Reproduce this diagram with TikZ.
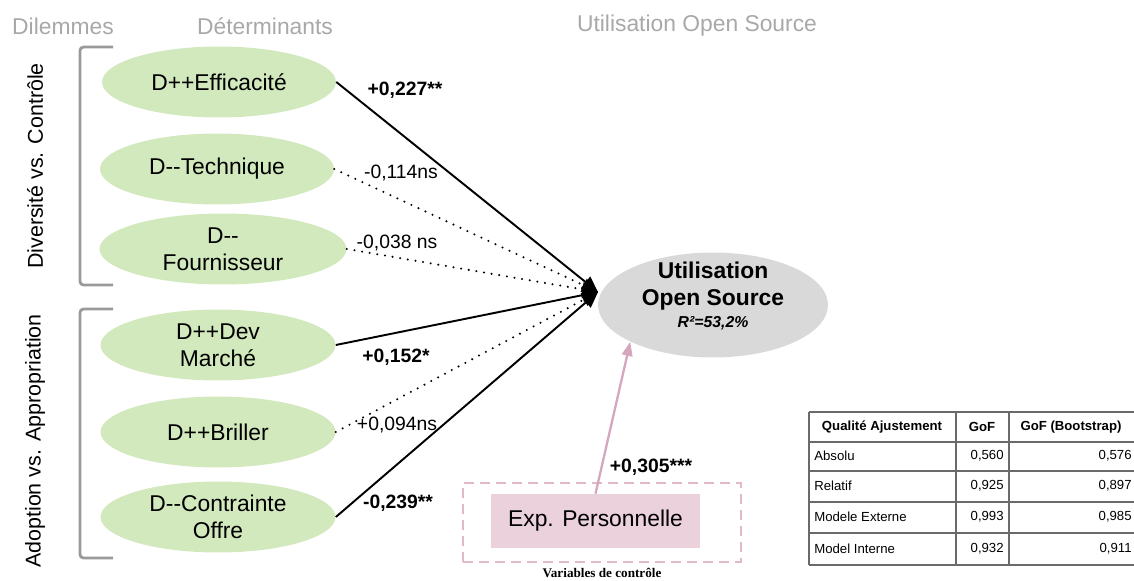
\documentclass[tikz,border=0pt]{standalone}
\usepackage{fontspec}
\setmainfont{Liberation Sans}
\newfontfamily\timesfont{Liberation Serif}
\usetikzlibrary{positioning,shapes.geometric,arrows.meta}
\definecolor{vertdet}{HTML}{D2E8BD}
\definecolor{griscible}{HTML}{D9D9D9}
\definecolor{rosefond}{HTML}{EAD1DC}
\definecolor{rosetrait}{HTML}{D5A6BD}
\definecolor{rosecadre}{HTML}{E2B8CB}
\definecolor{gristitre}{HTML}{A8A8A8}
\definecolor{grisaccolade}{HTML}{9A9A9A}
\definecolor{gristable}{HTML}{6A6A6A}
\newcommand{\dmoins}{-\kern0pt-}
\tikzset{%
  every determinant/.style={
    ellipse,
    fill=vertdet,
    minimum width=4.68cm,
    minimum height=1.42cm,
    inner sep=0pt,
    align=center,
    font=\fontsize{13}{15.5}\selectfont
  },
  cible/.style={
    ellipse,
    fill=griscible,
    minimum width=4.6cm,
    minimum height=2.1cm,
    inner sep=0pt
  },
  entete/.style={
    text=gristitre,
    font=\fontsize{13}{15}\selectfont
  },
  dilemme/.style={
    rotate=90,
    font=\fontsize{12.2}{14}\selectfont
  },
  accolade/.style={
    draw=grisaccolade,
    line width=1.6pt,
    rounded corners=2pt
  },
  lien sig/.style={
    line width=1.1pt,
    -{Triangle[length=9pt,width=8pt]}
  },
  lien ns/.style={
    line width=1.3pt,
    line cap=round,
    dash pattern=on 0pt off 4.4pt,
    -{Triangle[length=9pt,width=8pt]}
  },
  coef sig/.style={
    font=\fontsize{11}{13}\selectfont\bfseries
  },
  coef ns/.style={
    font=\fontsize{11}{13}\selectfont
  },
  tab ligne/.style={
    draw=gristable,
    line width=0.7pt
  },
  tab entete/.style={
    font=\fontsize{7.5}{9}\selectfont\bfseries
  },
  tab texte/.style={
    font=\fontsize{7.5}{9}\selectfont,
    inner sep=0pt
  },
}

\begin{document}
\begin{tikzpicture}[x=0.02cm,y=-0.02cm]
  \useasboundingbox (0,0) rectangle (1134,581);
  % titres
  \node[entete] (hdil) at (63,26) {Dilemmes};
  \node[entete] (hdet) at (265,26) {Déterminants};
  \node[entete] (huti) at (697,26) {Utilisation Open Source};
  % dilemmes
  \draw[accolade] (113,47) -- (80,47) -- (80,285) -- (113,285);
  \draw[accolade] (113,309) -- (80,309) -- (80,558) -- (113,558);
  \node[dilemme] (dil1) at (35,166) {Diversité vs. Contrôle};
  \node[dilemme] (dil2) at (35,441) {Adoption vs. Appropriation};
  % determinants
  \foreach \nom/\x/\y/\larg/\texte in {eff/219/82/4.68cm/{D++Efficacité},
      tec/217/169/4.68cm/{D\dmoins Technique},
      fou/223/249/4.94cm/{D\dmoins\\Fournisseur},
      dev/218/345/4.7cm/{D++Dev\\Marché},
      bri/218/432/4.7cm/{D++Briller},
      con/218/517/4.7cm/{D\dmoins Contrainte\\Offre}} {
    \node[every determinant, minimum width=\larg] (\nom) at (\x,\y) {\texte};
  }
  % variable a expliquer
  \node[cible] (uti) at (713,305) {};
  \node[align=center, font=\fontsize{13}{15.5}\selectfont\bfseries] (utitxt) at (713,296)
    {Utilisation\\Open Source\\[-3pt]{\fontsize{9}{11}\selectfont\itshape R²=53,2\%}};
  \coordinate (hub) at (598,292);
  \foreach \nom in {eff,dev,con} {
    \draw[lien sig] (\nom.east) -- (hub);
  }
  \foreach \nom in {tec,fou,bri} {
    \draw[lien ns] (\nom.east) -- (hub);
  }
  \node[coef sig] (ceff) at (405,90) {+0,227**};
  \node[coef ns] (ctec) at (401,173) {-0,114ns};
  \node[coef ns] (cfou) at (397,243) {-0,038 ns};
  \node[coef sig] (cdev) at (396,357) {+0,152*};
  \node[coef ns] (cbri) at (397,425) {+0,094ns};
  \node[coef sig] (ccon) at (398,503) {-0,239**};
  % variable de controle
  \node[draw=rosecadre, line width=1.1pt, dash pattern=on 5.7pt off 3.4pt,
        minimum width=5.56cm, minimum height=1.58cm] (cadre) at (602,522.5) {};
  \node[fill=rosefond, minimum width=4.18cm, minimum height=1.08cm,
        font=\fontsize{13}{15}\selectfont] (exp) at (595.5,521) {Exp. Personnelle};
  \node[font=\timesfont\bfseries\fontsize{7.5}{9}\selectfont] (varctrl) at (602,573) {Variables de contrôle};
  \draw[rosetrait, line width=1.3pt, -{Triangle[length=8pt,width=6pt]}] (exp.north) -- (uti.204);
  \node[coef sig] (cexp) at (651,467) {+0,305***};
  % qualite ajustement
  \foreach \y in {412,442,471,502,533,565} {
    \draw[tab ligne] (809,\y) -- (1134,\y);
  }
  \foreach \x in {809,956,1009} {
    \draw[tab ligne] (\x,412) -- (\x,565);
  }
  \node[tab entete] (qa) at (882,427) {Qualité Ajustement};
  \node[tab entete] (gof) at (982,427) {GoF};
  \node[tab entete] (gofb) at (1071,427) {GoF (Bootstrap)};
  \foreach \crit/\y/\va/\vb in {Absolu/456/{0,560}/{0,576},
      Relatif/486/{0,925}/{0,897},
      Modele Externe/517/{0,993}/{0,985},
      Model Interne/549/{0,932}/{0,911}} {
    \node[tab texte, anchor=west] at (814,\y) {\crit};
    \node[tab texte, anchor=east] at (1004,\y) {\va};
    \node[tab texte, anchor=east] at (1132,\y) {\vb};
  }
\end{tikzpicture}
\end{document}
